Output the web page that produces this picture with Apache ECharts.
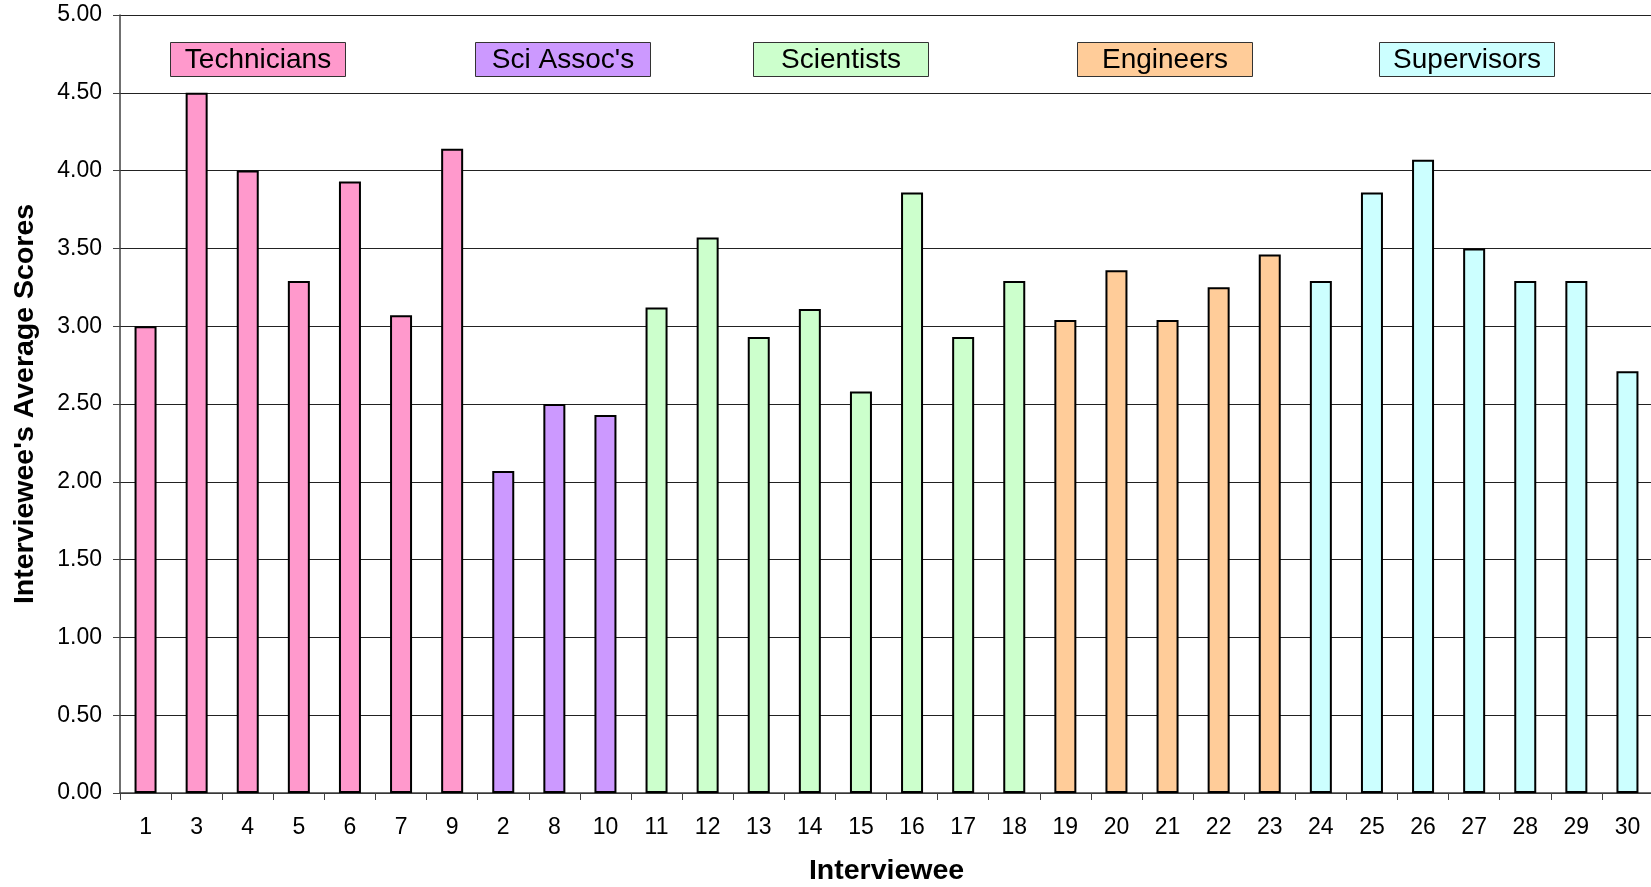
<!DOCTYPE html>
<html>
<head>
<meta charset="utf-8">
<title>Interviewee's Average Scores</title>
<script src="https://cdn.jsdelivr.net/npm/echarts@6/dist/echarts.min.js"></script>
<style>
  html, body { margin: 0; padding: 0; background: #ffffff; }
  #chart { width: 1651px; height: 887px; }
</style>
</head>
<body>
<div id="chart"></div>
<script>
// Interviewees, ordered by job group
const categories = ['1', '3', '4', '5', '6', '7', '9', '2', '8', '10',
  '11', '12', '13', '14', '15', '16', '17', '18',
  '19', '20', '21', '22', '23',
  '24', '25', '26', '27', '28', '29', '30'];

// Average score of each interviewee
const scores = [3.00, 4.50, 4.00, 3.29, 3.93, 3.07, 4.14, 2.07, 2.50, 2.43,
  3.12, 3.57, 2.93, 3.11, 2.58, 3.86, 2.93, 3.29,
  3.04, 3.36, 3.04, 3.25, 3.46,
  3.29, 3.86, 4.07, 3.50, 3.29, 3.29, 2.71];

// Job groups and the number of interviewees in each
const groupNames = ['Technicians', "Sci Assoc's", 'Scientists', 'Engineers', 'Supervisors'];
const groupSizes = [7, 3, 8, 5, 7];

// Y axis ticks
const yMin = 0, yMax = 5, yStep = 0.5;

// Styling
const groupColors = ['#FF99CC', '#CC99FF', '#CCFFCC', '#FFCC99', '#CCFFFF'];
const FONT = "'Liberation Sans', Arial, sans-serif";

// Group index for every bar
const groupOfBar = [];
groupSizes.forEach((n, g) => { for (let i = 0; i < n; i++) groupOfBar.push(g); });

const barData = scores.map((v, i) => ({
  value: v,
  itemStyle: { color: groupColors[groupOfBar[i]] }
}));

// Group caption boxes along the top of the plot
const boxLefts = [170, 475, 753, 1077, 1379];
const boxW = 175, boxH = 34, boxTop = 42;
const graphics = groupNames.map((name, g) => ({
  type: 'group',
  left: boxLefts[g],
  top: boxTop,
  children: [
    {
      type: 'rect',
      shape: { x: 0, y: 0, width: boxW, height: boxH },
      style: { fill: groupColors[g], stroke: '#333333', lineWidth: 1 }
    },
    {
      type: 'text',
      x: boxW / 2,
      y: boxH / 2 + 1,
      style: {
        text: name,
        font: '28px ' + FONT,
        fill: '#000000',
        align: 'center',
        verticalAlign: 'middle'
      }
    }
  ]
}));

const chart = echarts.init(document.getElementById('chart'), null, { renderer: 'canvas' });
chart.setOption({
  animation: false,
  backgroundColor: '#ffffff',
  grid: {
    left: 120, top: 15, width: 1533, height: 778,
    containLabel: false,
    outerBoundsMode: 'none'
  },
  xAxis: {
    type: 'category',
    data: categories,
    boundaryGap: true,
    name: 'Interviewee',
    nameLocation: 'middle',
    nameGap: 64,
    nameTextStyle: { fontFamily: FONT, fontSize: 28.5, fontWeight: 'bold', color: '#000' },
    axisLine: { lineStyle: { color: '#404040', width: 1.5 } },
    axisTick: { show: true, alignWithLabel: false, length: 7, lineStyle: { color: '#404040', width: 1 } },
    axisLabel: { fontFamily: FONT, fontSize: 23, color: '#000', margin: 23, interval: 0 },
    splitLine: { show: false }
  },
  yAxis: {
    type: 'value',
    min: yMin,
    max: yMax,
    interval: yStep,
    name: "Interviewee's Average Scores",
    nameLocation: 'middle',
    nameGap: 80,
    nameTextStyle: { fontFamily: FONT, fontSize: 28.5, fontWeight: 'bold', color: '#000' },
    axisLine: { show: true, lineStyle: { color: '#404040', width: 1.5 } },
    axisTick: { show: true, length: 7, lineStyle: { color: '#404040', width: 1 } },
    axisLabel: {
      fontFamily: FONT, fontSize: 23, color: '#000', margin: 18,
      formatter: v => v.toFixed(2)
    },
    splitLine: { show: true, lineStyle: { color: '#222222', width: 1 } }
  },
  series: [{
    type: 'bar',
    data: barData,
    barWidth: 22,
    itemStyle: { borderColor: '#000000', borderWidth: 2 }
  }],
  graphic: graphics
});
</script>
</body>
</html>
